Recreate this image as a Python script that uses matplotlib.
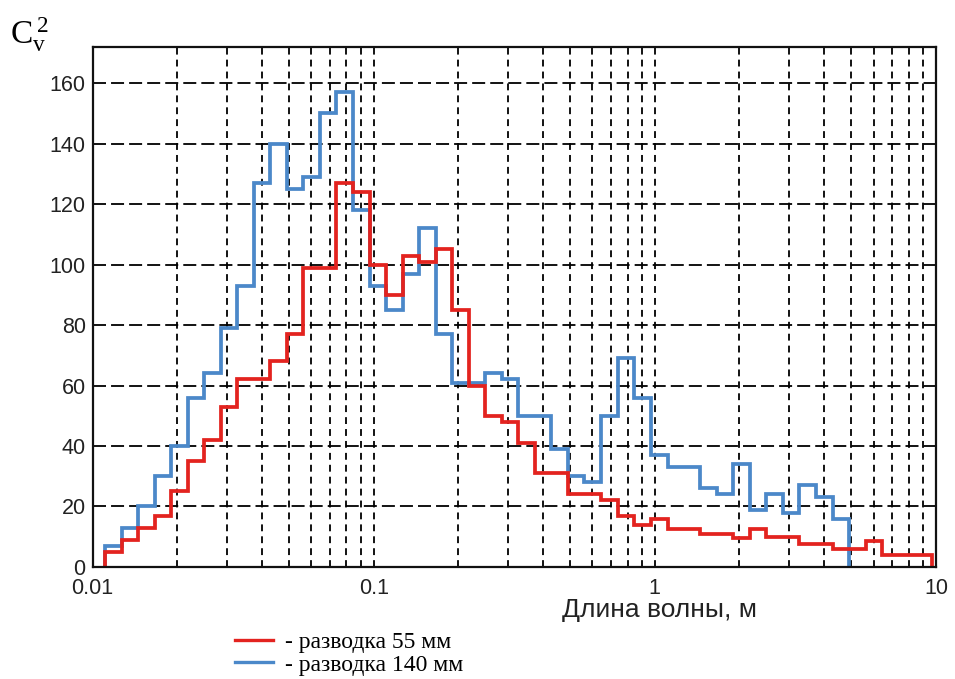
import matplotlib
matplotlib.use("Agg")
import matplotlib.pyplot as plt
from matplotlib.lines import Line2D

# bin edges of the spectrum, wavelength in m
edges = [0.0111, 0.0127, 0.0145, 0.0166, 0.0190, 0.0218, 0.0249, 0.0286, 0.0327,
         0.0374, 0.0429, 0.0491, 0.0562, 0.0644, 0.0737, 0.0844, 0.0966,
         0.111, 0.127, 0.145, 0.166, 0.190, 0.218, 0.249, 0.286, 0.327,
         0.374, 0.429, 0.491, 0.562, 0.644, 0.737, 0.844, 0.966,
         1.11, 1.27, 1.45, 1.66, 1.90, 2.18, 2.49, 2.86, 3.27,
         3.74, 4.29, 4.91, 5.62, 6.44, 7.37, 8.44, 9.66]

cv2_55 = [5, 9, 13, 17, 25, 35, 42, 53, 62, 62,
          68, 77, 99, 99, 127, 124, 100, 90, 103, 101,
          105, 85, 60, 50, 48, 41, 31, 31, 24, 24,
          22, 17, 14, 16, 12.5, 12.5, 11, 11, 9.5, 12.5,
          10, 10, 7.5, 7.5, 6, 6, 8.5, 4, 4, 4]

cv2_140 = [7, 13, 20, 30, 40, 56, 64, 79, 93, 127,
           140, 125, 129, 150, 157, 118, 93, 85, 97, 112,
           77, 61, 61, 64, 62, 50, 50, 39, 30, 28,
           50, 69, 56, 37, 33, 33, 26, 24, 34, 19,
           24, 18, 27, 23, 16]

labels = ["- разводка 55 мм", "- разводка 140 мм"]
xticks = [0.01, 0.1, 1, 10]
xtick_labels = ["0.01", "0.1", "1", "10"]
yticks = [0, 20, 40, 60, 80, 100, 120, 140, 160]

red = "#e3231f"
blue = "#4b88c9"

fig = plt.figure(figsize=(9.55, 6.79), dpi=100)
ax = fig.add_axes([0.097, 0.165, 0.883, 0.766])

ax.stairs(cv2_140, edges[:len(cv2_140) + 1], baseline=0, color=blue, lw=2.7)
ax.stairs(cv2_55, edges, baseline=0, color=red, lw=2.7)

ax.set_xscale("log")
ax.set_xlim(0.01, 10)
ax.set_ylim(0, 172)

ax.set_xticks(xticks)
ax.set_xticklabels(xtick_labels)
ax.set_yticks(yticks)
ax.tick_params(which="both", length=0, labelsize=15.5)
ax.tick_params(axis="x", pad=8)
ax.tick_params(axis="y", pad=5)
for lab in ax.get_xticklabels() + ax.get_yticklabels():
    lab.set_family("Liberation Sans")
    lab.set_color("#222222")

ax.grid(True, axis="x", which="both", color="black", lw=1.3, ls=(0, (3.8, 2.8)))
ax.grid(True, axis="y", which="major", color="black", lw=1.3, ls=(0, (7.2, 2.8)))
ax.set_axisbelow(True)
for sp in ax.spines.values():
    sp.set_linewidth(1.6)
    sp.set_color("#111111")

ax.set_xlabel("Длина волны, м", family="Liberation Sans", fontsize=19, color="#222222")
ax.xaxis.set_label_coords(0.672, -0.060)

fig.text(0.010, 0.978, r"$\mathregular{C_v^{\,2}}$", family="Liberation Serif",
         fontsize=24, va="top", ha="left")

handles = [Line2D([], [], color=red, lw=2.4), Line2D([], [], color=blue, lw=2.4)]
ax.legend(handles, labels, loc="upper left", bbox_to_anchor=(0.246, 0.070),
          bbox_transform=fig.transFigure, frameon=False, borderpad=0,
          borderaxespad=0, handlelength=1.6, handletextpad=0.5, labelspacing=0.05,
          prop={"family": "Liberation Serif", "size": 17})

fig.savefig("out.png", dpi=100)
